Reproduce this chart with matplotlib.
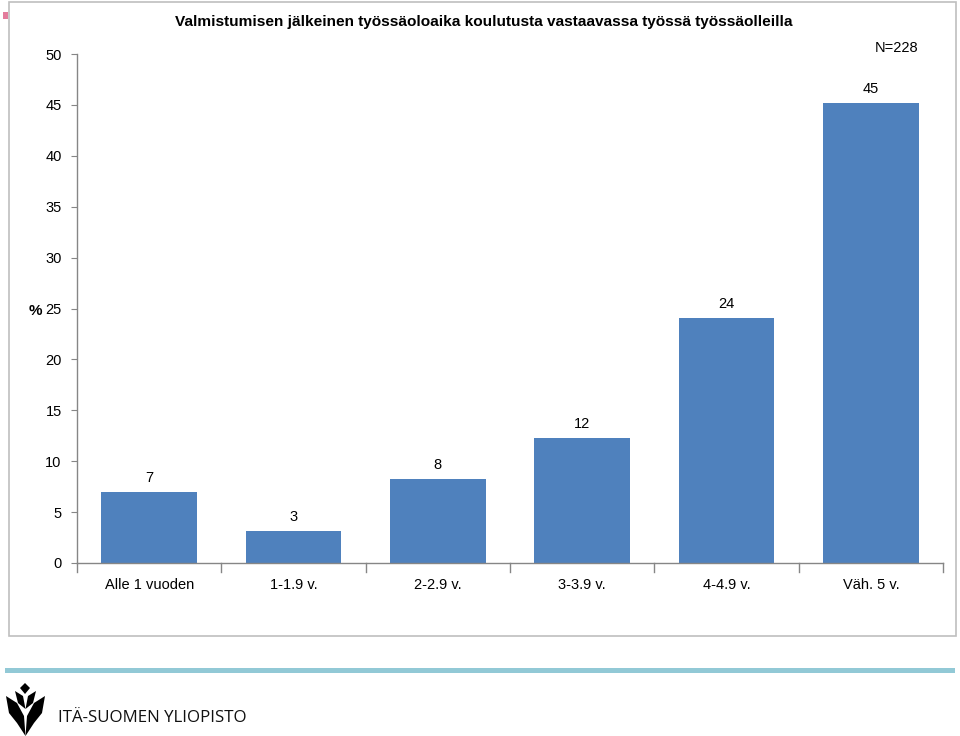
import matplotlib
matplotlib.use("Agg")
import matplotlib.pyplot as plt
from matplotlib.patches import Rectangle, Polygon

plt.rcParams['font.family'] = ['Liberation Sans', 'DejaVu Sans']

categories = ["Alle 1 vuoden", "1-1.9 v.", "2-2.9 v.", "3-3.9 v.", "4-4.9 v.", "Väh. 5 v."]
values = [7.0, 3.1, 8.3, 12.3, 24.1, 45.2]
value_labels = ["7", "3", "8", "12", "24", "45"]
yticks = [0, 5, 10, 15, 20, 25, 30, 35, 40, 45, 50]
title = "Valmistumisen jälkeinen työssäoloaika koulutusta vastaavassa työssä työssäolleilla"
note = "N=228"

W, H = 960, 736
fig = plt.figure(figsize=(9.6, 7.36), dpi=100)

def fx(x):
    return x / W

def fy(y):
    return 1 - y / H

# outer chart frame
fig.patches.append(Rectangle((fx(9), fy(636)), fx(956) - fx(9), fy(2) - fy(636),
                             transform=fig.transFigure, fill=False,
                             edgecolor="#BFBFBF", linewidth=1.2))
# pink marker
fig.patches.append(Rectangle((fx(3), fy(19)), 5 / W, 7 / H, transform=fig.transFigure,
                             facecolor="#E37C9C", edgecolor="none"))

ax = fig.add_axes([fx(77), fy(563), fx(943) - fx(77), fy(54) - fy(563)])
x = list(range(len(categories)))
bars = ax.bar(x, values, width=0.665, color="#4F81BD", zorder=2)
ax.set_xlim(-0.5, len(categories) - 0.5)
ax.set_ylim(0, 50)
ax.set_yticks(yticks)
ax.set_yticklabels([str(t) for t in yticks], fontsize=10.5)
ax.set_xticks(x)
ax.set_xticklabels(categories, fontsize=10.5)
ax.tick_params(axis="x", length=0, pad=11)
ax.tick_params(axis="y", length=4, color="#868686", pad=7, direction="out")
# category boundary ticks
for b in [i - 0.5 for i in range(len(categories) + 1)]:
    ax.plot([b, b], [0, -0.9], color="#868686", linewidth=1, clip_on=False,
            transform=ax.transData)
for s in ["top", "right"]:
    ax.spines[s].set_visible(False)
for s in ["left", "bottom"]:
    ax.spines[s].set_color("#868686")
    ax.spines[s].set_linewidth(1.0)

for rect, lab in zip(bars, value_labels):
    ax.annotate(lab, (rect.get_x() + rect.get_width() / 2, rect.get_height()),
                xytext=(0, 5), textcoords="offset points", ha="center", va="bottom",
                fontsize=10.5)

fig.text(fx(35), fy(311), "%", fontsize=11, fontweight="bold", ha="center", va="center")
fig.text(fx(484), fy(22), title, fontsize=11.1, fontweight="bold", ha="center", va="center")
fig.text(fx(918), fy(48), note, fontsize=10.5, ha="right", va="center")

# footer band
fig.patches.append(Rectangle((fx(5), fy(673)), fx(955) - fx(5), 5 / H,
                             transform=fig.transFigure, facecolor="#92C9D6", edgecolor="none"))

# logo (simplified)
left_shapes = [
    [(25, 683), (30, 688), (25, 694), (20, 688)],
    [(15, 691), (23, 696), (25.5, 709), (18, 703)],
    [(6, 696), (17, 703), (24, 716), (25.5, 736), (17, 723), (9, 713)],
]
shapes = []
for pts in left_shapes:
    shapes.append(pts)
    if pts[0][0] != 25:
        shapes.append([(51 - px, py) for px, py in pts])
for pts in shapes:
    p = Polygon([(fx(px), fy(py)) for px, py in pts], closed=True,
                transform=fig.transFigure, facecolor="black", edgecolor="none")
    fig.patches.append(p)
fig.text(fx(58), fy(718), "ITÄ-SUOMEN YLIOPISTO", fontsize=12.2, ha="left", va="center",
         family=["Open Sans", "DejaVu Sans"], color="#111111")

fig.savefig("out.png", dpi=100)
